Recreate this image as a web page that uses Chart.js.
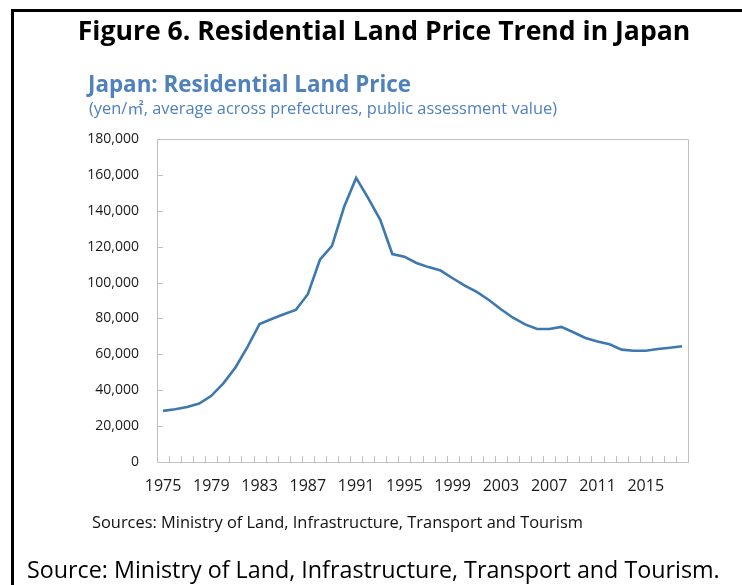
<!DOCTYPE html>
<html>
<head>
<meta charset="utf-8">
<script src="https://cdn.jsdelivr.net/npm/chart.js@4.4.1/dist/chart.umd.min.js"></script>
<style>
  html, body { margin: 0; padding: 0; background: #fff; }
  #wrap { position: relative; width: 742px; height: 585px; overflow: hidden; font-family: "Open Sans", sans-serif; }
  #frame { position: absolute; left: 11px; top: 9px; width: 760px; height: 600px; border-left: 3px solid #000; border-top: 3px solid #000; }
  .txt { position: absolute; white-space: nowrap; }
  #title { left: 0; width: 768px; text-align: center; top: 12px; font-size: 26.6px; font-weight: bold; color: #000; }
  #sub1 { left: 88px; top: 68px; font-size: 22.4px; font-weight: bold; color: #4f81bd; }
  #sub2 { left: 89px; top: 95px; font-size: 16.4px; color: #4f81bd; }
  #sub2 .m2 { font-family: "Noto Sans CJK JP", sans-serif; }
  #src1 { left: 92px; top: 510px; font-size: 16.4px; color: #111; }
  #src2 { left: 27px; top: 553px; font-size: 23.3px; color: #000; }
  canvas { position: absolute; left: 0; top: 0; }
</style>
</head>
<body>
<div id="wrap">
  <canvas id="myChart" width="742" height="585"></canvas>
  <div id="frame"></div>
  <div class="txt" id="title">Figure 6. Residential Land Price Trend in Japan</div>
  <div class="txt" id="sub1">Japan: Residential Land Price</div>
  <div class="txt" id="sub2">(yen/<span class="m2">㎡</span>, average across prefectures, public assessment value)</div>
  <div class="txt" id="src1">Sources: Ministry of Land, Infrastructure, Transport and Tourism</div>
  <div class="txt" id="src2">Source: Ministry of Land, Infrastructure, Transport and Tourism.</div>
</div>
<script>
"use strict";

// years 1975 - 2018
let years = [];
for (let y = 1975; y <= 2018; y++) years.push(String(y));

// yen per square metre
let prices = [
  28500, 29400, 30700, 32600, 36900, 43800, 52700, 64200, 76900, 79700,
  82300, 84700, 93500, 112700, 120500, 142100, 158300, 147100, 135000, 115900,
  114400, 110900, 108600, 106700, 102400, 98300, 94800, 90300, 85100, 80400,
  76700, 74100, 74100, 75300, 72300, 69100, 67200, 65600, 62600, 62000,
  62000, 63000, 63700, 64500,
];

let yTicks = [0, 20000, 40000, 60000, 80000, 100000, 120000, 140000, 160000, 180000];

// inward tick marks + plot frame
const frameTicks = {
  id: "frameTicks",
  afterDraw(chart) {
    const ctx = chart.ctx;
    const a = chart.chartArea;
    const xs = chart.scales.x;
    const ys = chart.scales.y;
    ctx.save();
    ctx.strokeStyle = "#bfbfbf";
    ctx.lineWidth = 1;
    ctx.beginPath();
    ctx.rect(Math.round(a.left) + 0.5, Math.round(a.top) + 0.5,
      Math.round(a.right - a.left), Math.round(a.bottom - a.top));
    yTicks.forEach((v) => {
      if (v === 0 || v === yTicks[yTicks.length - 1]) return;
      const y = Math.round(ys.getPixelForValue(v)) + 0.5;
      ctx.moveTo(a.left, y);
      ctx.lineTo(a.left + 6, y);
    });
    for (let i = 0; i < years.length - 1; i++) {
      const x = Math.round((xs.getPixelForValue(i) + xs.getPixelForValue(i + 1)) / 2) + 0.5;
      ctx.moveTo(x, a.bottom);
      ctx.lineTo(x, a.bottom - 6);
    }
    ctx.stroke();
    ctx.restore();
  },
};

Chart.defaults.font.family = "'Open Sans', sans-serif";
Chart.defaults.font.size = 14;
Chart.defaults.color = "#1a1a1a";

new Chart(document.getElementById("myChart"), {
  type: "line",
  data: {
    labels: years,
    datasets: [
      {
        data: prices,
        borderColor: "#3d78ae",
        borderWidth: 2.6,
        pointRadius: 0,
        tension: 0,
        fill: false,
      },
    ],
  },
  options: {
    responsive: false,
    animation: false,
    layout: { padding: { left: 0, top: 139, right: 54, bottom: 83 } },
    plugins: { legend: { display: false }, tooltip: { enabled: false } },
    scales: {
      x: {
        offset: true,
        grid: { display: false, drawTicks: false },
        border: { display: false },
        ticks: {
          autoSkip: false,
          maxRotation: 0,
          padding: 15,
          font: { size: 16 },
          callback: function (v, i) {
            return i % 4 === 0 ? years[i] : "";
          },
        },
        afterFit: (s) => { s.height = 40; },
      },
      y: {
        min: 0,
        max: 180000,
        grid: { display: false, drawTicks: false },
        border: { display: false },
        afterBuildTicks: (s) => { s.ticks = yTicks.map((v) => ({ value: v })); },
        ticks: {
          padding: 18,
          callback: (v) => v.toLocaleString("en-US"),
        },
        afterFit: (s) => { s.width = 157; },
      },
    },
  },
  plugins: [frameTicks],
});
</script>
</body>
</html>
